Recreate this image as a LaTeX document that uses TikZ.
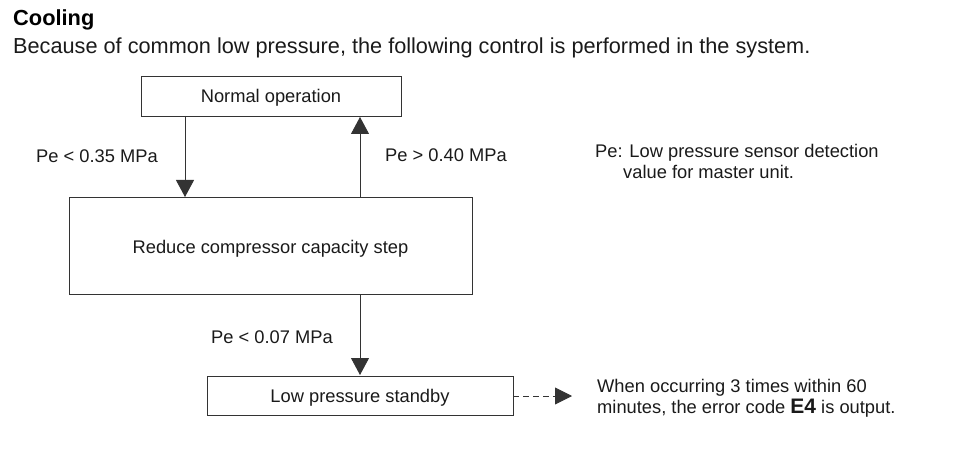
\documentclass[tikz,border=0pt]{standalone}
\usepackage{fontspec}
\setmainfont{Liberation Sans}
\usetikzlibrary{arrows.meta}
\definecolor{ln}{HTML}{333333}
\definecolor{tx}{HTML}{1A1A1A}
\tikzset{
  box/.style={draw=ln, line width=0.9pt, fill=white},
  lbl/.style={inner sep=0pt, anchor=base west, text=tx, font=\fontsize{18.3}{21}\selectfont},
  clbl/.style={inner sep=0pt, anchor=base, text=tx, font=\fontsize{18.3}{21}\selectfont},
  conn/.style={draw=ln, line width=0.9pt, -{Triangle[width=18pt,length=17pt]}},
  dconn/.style={draw=ln, line width=0.9pt, dash pattern=on 6pt off 4pt, -{Triangle[width=17pt,length=17pt]}}
}
\begin{document}
\begin{tikzpicture}[x=1pt,y=-1pt]
\useasboundingbox (0,0) rectangle (953,449);
% title
\node[inner sep=0pt, anchor=base west, text=black, font=\fontsize{21.8}{24}\selectfont\bfseries] (title) at (13,26) {Cooling};
\node[inner sep=0pt, anchor=base west, text=tx, font=\fontsize{21.7}{24}\selectfont] (sub) at (13,54) {Because of common low pressure, the following control is performed in the system.};
% boxes
\path[box] (141,76) rectangle (401,116);
\node[clbl] (normal) at (271,103) {Normal operation};
\path[box] (69,197) rectangle (472,294);
\node[clbl] (reduce) at (270.5,253) {Reduce compressor capacity step};
\path[box] (207,376) rectangle (513,415);
\node[clbl] (standby) at (360,402) {Low pressure standby};
% connector anchors
\coordinate (a1s) at (185,116); \coordinate (a1e) at (185,197);
\coordinate (a2s) at (360,197); \coordinate (a2e) at (360,117);
\coordinate (a3s) at (360,294); \coordinate (a3e) at (360,375);
\coordinate (a4s) at (513,396); \coordinate (a4e) at (572,396);
\draw[conn] (a1s) -- (a1e);
\draw[conn] (a2s) -- (a2e);
\draw[conn] (a3s) -- (a3e);
\draw[dconn] (a4s) -- (a4e);
% labels
\node[lbl] (l1) at (36,163) {Pe < 0.35 MPa};
\node[lbl] (l2) at (385,162) {Pe > 0.40 MPa};
\node[lbl] (l3) at (211,343) {Pe < 0.07 MPa};
\node[lbl] (n1) at (595,158) {Pe: Low pressure sensor detection};
\node[lbl] (n2) at (623,179) {value for master unit.};
\node[lbl] (w1) at (597,392) {When occurring 3 times within 60};
\node[lbl] (w2) at (597,413) {minutes, the error code {\fontsize{21}{24}\selectfont\bfseries E4} is output.};
\end{tikzpicture}
\end{document}
